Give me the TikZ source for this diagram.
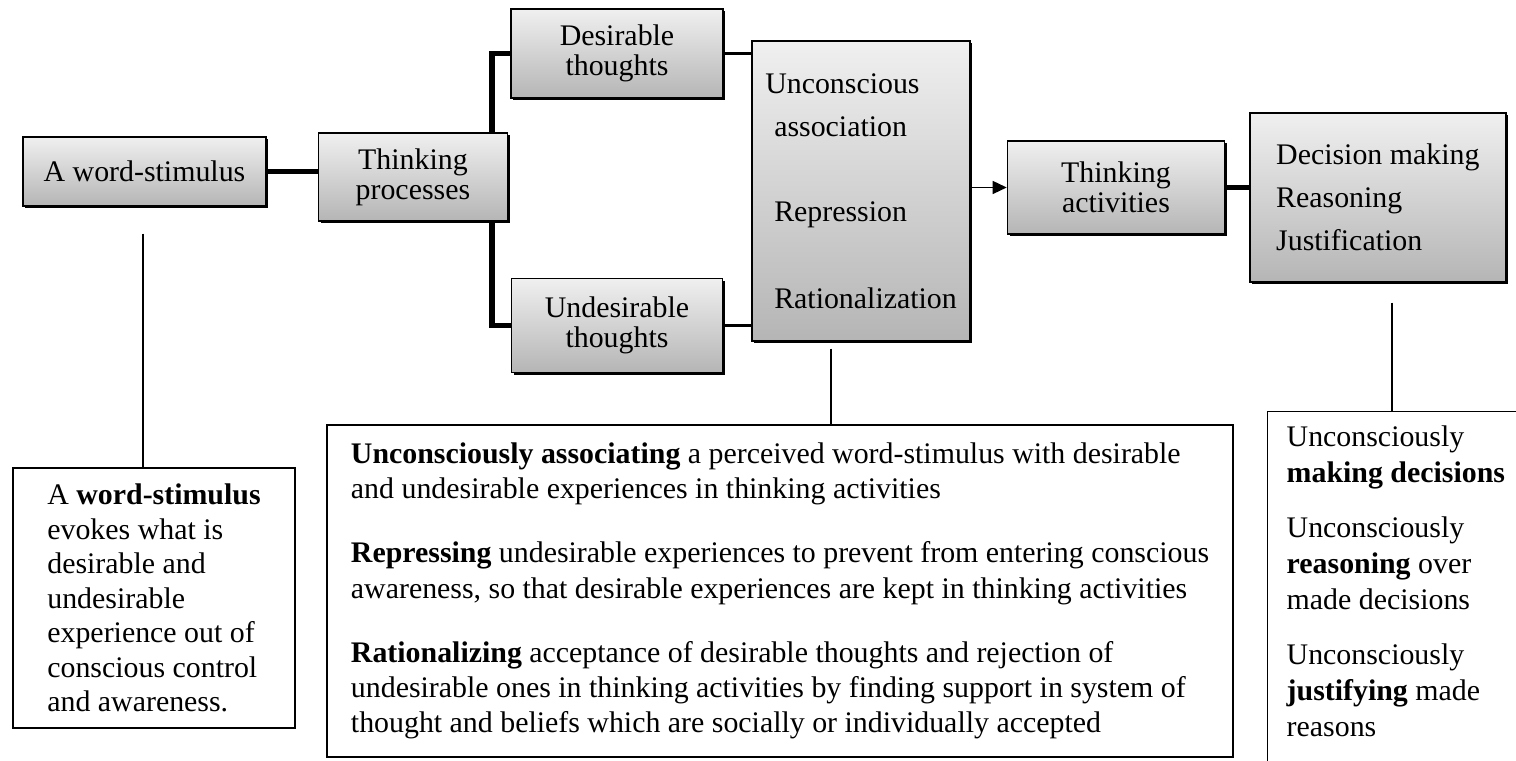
\documentclass[tikz,border=0pt]{standalone}
\usepackage{fontspec}
\setmainfont{Liberation Serif}
\usepackage{tikz}
\usetikzlibrary{arrows.meta, positioning, shadows}

\begin{document}
\begin{tikzpicture}[
    box/.style={rectangle, draw=black, line width=0.8pt, inner sep=0pt, align=center,
        top color=gray!12, bottom color=gray!58,
        drop shadow={shadow xshift=1.3pt, shadow yshift=-1.3pt, fill=black, opacity=1},
        font=\fontsize{17}{17}\selectfont},
    note/.style={rectangle, draw=black, line width=0.8pt, fill=white, align=left,
        font=\fontsize{17}{20}\selectfont},
    thickline/.style={line width=3pt, black},
    midline/.style={line width=2pt, black},
    thinline/.style={line width=0.8pt, black},
    arr/.style={-{Triangle[length=0.28cm, width=0.26cm]}, line width=0.8pt, black},
]
\useasboundingbox (0,0) rectangle (30.32,15.22);
\clip (0,0) rectangle (30.32,15.22);

% top row
\node[box, minimum width=4.86cm, minimum height=1.38cm] (ws) at (2.89,11.79) {A word-stimulus};
\node[box, minimum width=3.78cm, minimum height=1.76cm, right=1.02cm of ws, yshift=-0.11cm] (tp) {Thinking\\processes};
\node[box, minimum width=4.24cm, minimum height=1.78cm] (dt) at (12.34,14.15) {Desirable\\thoughts};
\node[box, minimum width=4.22cm, minimum height=1.88cm, below=3.58cm of dt] (ut) {Undesirable\\thoughts};
\node[box, minimum width=4.36cm, minimum height=6cm, align=left,
      font=\fontsize{17}{24.4}\selectfont] (ua) at (17.22,11.40)
    {Unconscious\\\hspace*{0.18cm}association\\[0.84cm]\hspace*{0.18cm}Repression\\[0.88cm]\hspace*{0.18cm}Rationalization};
\node[box, minimum width=4.34cm, minimum height=1.86cm, right=0.72cm of ua, yshift=0.07cm] (ta) {Thinking\\activities};
\node[box, minimum width=5.12cm, minimum height=3.38cm, align=left,
      font=\fontsize{17}{24.4}\selectfont, right=0.48cm of ta, yshift=-0.2cm] (dm)
    {Decision making\\Reasoning\\Justification};

% notes below
\node[note, minimum width=5.64cm, minimum height=5.2cm, font=\fontsize{17}{19.6}\selectfont] (lb) at (3.08,3.26)
    {A \textbf{word-stimulus}\\evokes what is\\desirable and\\undesirable\\experience out of\\conscious control\\and awareness.};
\node[note, minimum width=18.12cm, minimum height=6.64cm] (mb) at (15.6,3.40)
    {\textbf{Unconsciously associating} a perceived word-stimulus with desirable\\
     and undesirable experiences in thinking activities\\[0.58cm]
     \textbf{Repressing} undesirable experiences to prevent from entering conscious\\
     awareness, so that desirable experiences are kept in thinking activities\\[0.58cm]
     \textbf{Rationalizing} acceptance of desirable thoughts and rejection of\\
     undesirable ones in thinking activities by finding support in system of\\
     thought and beliefs which are socially or individually accepted};
\node[note, anchor=north west, inner xsep=0.38cm, inner ysep=0.28cm,
      text depth=1.2cm, font=\fontsize{17}{20.5}\selectfont] (rb) at (25.34,7.0)
    {Unconsciously\\\textbf{making decisions}\\[0.38cm]
     Unconsciously\\\textbf{reasoning} over\\made decisions\\[0.38cm]
     Unconsciously\\\textbf{justifying} made\\reasons};

% links
\draw[thickline] (ws.east) -- (ws.east -| tp.west);
\draw[thickline] ([xshift=-0.32cm]tp.north east) |- (dt.west);
\draw[thickline] ([xshift=-0.32cm]tp.south east) |- (ut.west);
\draw[midline] (dt.east) -- (dt.east -| ua.west);
\draw[midline] (ut.east) -- (ut.east -| ua.west);
\draw[arr] (ua.east |- ta.west) -- (ta.west);
\draw[thickline] (ta.east) -- (ta.east -| dm.west);

\coordinate (wstap) at ([xshift=-0.03cm, yshift=-0.54cm]ws.south);
\coordinate (uatap) at ([xshift=-0.6cm, yshift=-0.14cm]ua.south);
\coordinate (dmtap) at ([xshift=0.28cm, yshift=-0.4cm]dm.south);
\draw[thinline] (wstap) -- (wstap |- lb.north);
\draw[thinline] (uatap) -- (uatap |- mb.north);
\draw[thinline] (dmtap) -- (dmtap |- rb.north);

\end{tikzpicture}
\end{document}
